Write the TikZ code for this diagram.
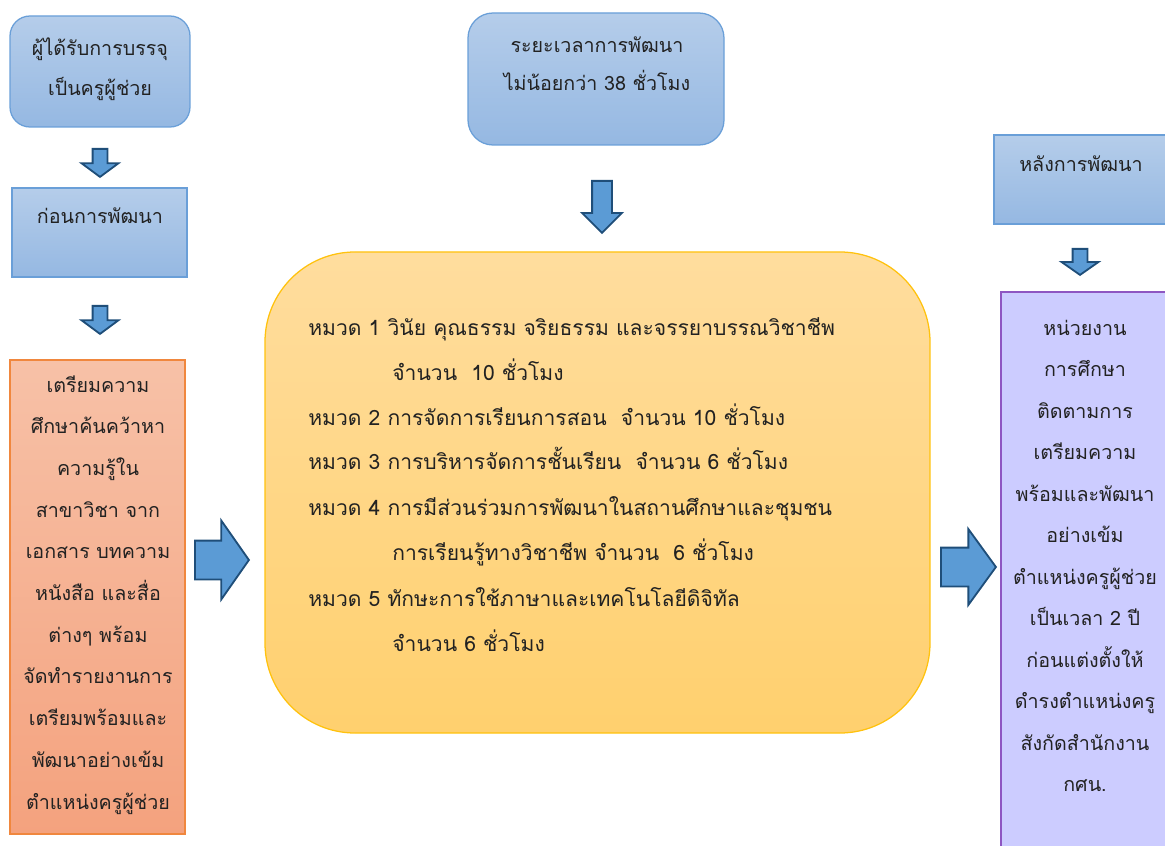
\documentclass[tikz,border=0pt]{standalone}
\usepackage{fontspec}
\newfontfamily\thaifont[Script=Thai]{Loma}
\usetikzlibrary{shapes.arrows}

\definecolor{bluetop}{HTML}{B5CDEA}
\definecolor{bluebot}{HTML}{95B8E2}
\definecolor{blueline}{HTML}{6A9FD8}
\definecolor{orangetop}{HTML}{F7C1A7}
\definecolor{orangebot}{HTML}{F4A27E}
\definecolor{orangeline}{HTML}{F0873E}
\definecolor{yellowtop}{HTML}{FFDD9E}
\definecolor{yellowbot}{HTML}{FFD06E}
\definecolor{yellowline}{HTML}{FFC20E}
\definecolor{purplefill}{HTML}{CCCCFF}
\definecolor{purpleline}{HTML}{8E56C2}
\definecolor{arrowfill}{HTML}{5B9BD5}
\definecolor{arrowline}{HTML}{1F4E79}
\definecolor{textgrey}{HTML}{222222}

\newdimen\pix
\pix=0.025cm

\begin{document}
\begin{tikzpicture}[x=0.025cm,y=-0.025cm,
  bluebox/.style={draw=blueline,line width=0.9pt,top color=bluetop,bottom color=bluebot,inner sep=0pt},
  orangebox/.style={draw=orangeline,line width=0.9pt,top color=orangetop,bottom color=orangebot,inner sep=0pt},
  yellowbox/.style={draw=yellowline,line width=0.9pt,top color=yellowtop,bottom color=yellowbot,inner sep=0pt},
  purplebox/.style={draw=purpleline,line width=0.9pt,fill=purplefill,inner sep=0pt},
  txt/.style={font=\thaifont\fontsize{14}{16}\selectfont,text=textgrey,inner sep=0pt,anchor=mid},
  bigtxt/.style={txt,font=\thaifont\fontsize{15}{17}\selectfont},
  blockarrow/.style={single arrow,draw=arrowline,fill=arrowfill,line width=1.3pt,
    single arrow head indent=0pt,minimum width=0pt,anchor=tail}]
\useasboundingbox (0,0) rectangle (1165,846);

% boxes
\node[bluebox,rounded corners=20\pix,minimum width=180\pix,minimum height=111\pix] (recruit) at (100,71.5) {};
\node[bluebox,minimum width=175\pix,minimum height=89\pix] (before) at (99.5,232.5) {};
\node[orangebox,minimum width=175\pix,minimum height=474\pix] (prep) at (97.5,597) {};
\node[bluebox,rounded corners=25\pix,minimum width=256\pix,minimum height=132\pix] (period) at (596,79) {};
\node[yellowbox,rounded corners=90\pix,minimum width=665\pix,minimum height=481\pix] (course) at (597.5,492.5) {};
\node[bluebox,minimum width=176\pix,minimum height=89\pix] (after) at (1082,179.5) {};
\node[purplebox,minimum width=176\pix,minimum height=570\pix] (unit) at (1089,577) {};

% block arrows
\node[blockarrow,shape border rotate=270,inner sep=6.5\pix,single arrow head extend=11\pix,
  single arrow tip angle=107,minimum height=28\pix] (a1) at (100,148) {};
\node[blockarrow,shape border rotate=270,inner sep=6.5\pix,single arrow head extend=11\pix,
  single arrow tip angle=107,minimum height=28\pix] (a2) at (100,305) {};
\node[blockarrow,shape border rotate=270,inner sep=9\pix,single arrow head extend=10\pix,
  single arrow tip angle=90,minimum height=52\pix] (a3) at (602,180) {};
\node[blockarrow,inner sep=18.5\pix,single arrow head extend=20\pix,
  single arrow tip angle=110,minimum height=54\pix] (a4) at (194,560) {};
\node[blockarrow,inner sep=18.5\pix,single arrow head extend=18.5\pix,
  single arrow tip angle=108,minimum height=55\pix] (a5) at (940,567) {};
\node[blockarrow,shape border rotate=270,inner sep=6.5\pix,single arrow head extend=11\pix,
  single arrow tip angle=110,minimum height=26\pix] (a6) at (1080,248) {};

% texts
\node[txt] (recruit1) at (100,52) {ผู้ได้รับการบรรจุ};
\node[txt] (recruit2) at (100,92) {เป็นครูผู้ช่วย};
\node[txt] (beforetxt) at (100,220) {ก่อนการพัฒนา};
\node[txt] (period1) at (597,49) {ระยะเวลาการพัฒนา};
\node[txt] (period2) at (597,87) {ไม่น้อยกว่า 38 ชั่วโมง};
\node[txt] (aftertxt) at (1081,168) {หลังการพัฒนา};

\foreach \t [count=\i] in {เตรียมความ,ศึกษาค้นคว้าหา,ความรู้ใน,สาขาวิชา จาก,เอกสาร บทความ,
  หนังสือ และสื่อ,ต่างๆ พร้อม,จัดทำรายงานการ,เตรียมพร้อมและ,พัฒนาอย่างเข้ม,ตำแหน่งครูผู้ช่วย}
  \node[txt] (prep\i) at (98,{389+41.7*(\i-1)}) {\t};

\foreach \x/\y/\t in {
  308/332/{หมวด 1 วินัย คุณธรรม จริยธรรม และจรรยาบรรณวิชาชีพ},
  392/377/{จำนวน\ \ 10 ชั่วโมง},
  308/422/{หมวด 2 การจัดการเรียนการสอน\ \ จำนวน 10 ชั่วโมง},
  308/466/{หมวด 3 การบริหารจัดการชั้นเรียน\ \ จำนวน 6 ชั่วโมง},
  308/512/{หมวด 4 การมีส่วนร่วมการพัฒนาในสถานศึกษาและชุมชน},
  392/557/{การเรียนรู้ทางวิชาชีพ จำนวน\ \ 6 ชั่วโมง},
  308/603/{หมวด 5 ทักษะการใช้ภาษาและเทคโนโลยีดิจิทัล},
  392/648/{จำนวน 6 ชั่วโมง}}
  \node[bigtxt,anchor=mid west] (course\y) at (\x,\y) {\t};

\foreach \t [count=\i] in {หน่วยงาน,การศึกษา,ติดตามการ,เตรียมความ,พร้อมและพัฒนา,อย่างเข้ม,
  ตำแหน่งครูผู้ช่วย,เป็นเวลา 2 ปี,ก่อนแต่งตั้งให้,ดำรงตำแหน่งครู,สังกัดสำนักงาน,กศน.}
  \node[txt] (unit\i) at (1085,{332+41.5*(\i-1)}) {\t};
\end{tikzpicture}
\end{document}
